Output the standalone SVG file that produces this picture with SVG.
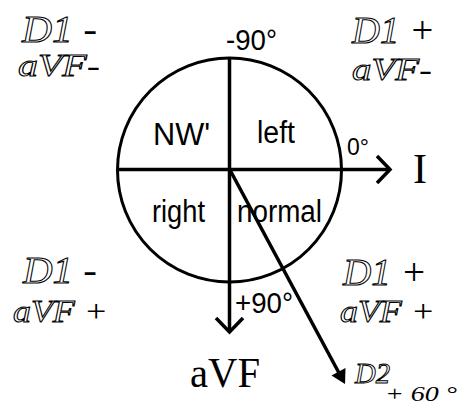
<svg xmlns="http://www.w3.org/2000/svg" width="460" height="405" viewBox="0 0 460 405">
<style>
.ln{stroke:#000;stroke-width:3.5;fill:none;stroke-linecap:butt}
.sans{font-family:"Liberation Sans",Arial,sans-serif;fill:#000}
.ser{font-family:"Liberation Serif","Times New Roman",serif;fill:#000}
.it{font-family:"Liberation Serif","Times New Roman",serif;font-style:italic;fill:#000}
.ol{fill:none;stroke:#000;stroke-width:1}
</style>
<g id="circle">
<circle cx="229.5" cy="170" r="112" fill="none" stroke="#000" stroke-width="3"/>
</g>
<g id="connectors">
<line class="ln" x1="117" y1="169.5" x2="389" y2="169.5"/>
<polyline class="ln" points="377,156 390,169.5 377,183"/>
<line class="ln" x1="229.5" y1="58" x2="229.5" y2="331"/>
<polyline class="ln" points="216,318 229.5,332 243,318"/>
<line class="ln" x1="230" y1="170" x2="339" y2="373"/>
<polygon points="345,384 331.5,375.5 345.5,368" fill="#000"/>
</g>
<g id="quadrants">
<text class="sans" x="153" y="145" font-size="31" textLength="57" lengthAdjust="spacingAndGlyphs">NW'</text>
<text class="sans" x="257" y="143" font-size="31" textLength="38" lengthAdjust="spacingAndGlyphs">left</text>
<text class="sans" x="152" y="222" font-size="31" textLength="53" lengthAdjust="spacingAndGlyphs">right</text>
<text class="sans" x="237" y="222" font-size="31" textLength="85" lengthAdjust="spacingAndGlyphs">normal</text>
</g>
<g id="angles">
<text class="sans" x="226" y="50" font-size="30" textLength="51" lengthAdjust="spacingAndGlyphs">-90°</text>
<text class="sans" x="347" y="155" font-size="24" textLength="22" lengthAdjust="spacingAndGlyphs">0°</text>
<text class="sans" x="235" y="313" font-size="30" textLength="58" lengthAdjust="spacingAndGlyphs">+90°</text>
</g>
<g id="axis-labels">
<text class="ser" x="413" y="183" font-size="42">I</text>
<text class="ser" x="190" y="387" font-size="42" textLength="70" lengthAdjust="spacingAndGlyphs">aVF</text>
<text class="it ol" x="355" y="383" font-size="30" textLength="35" lengthAdjust="spacingAndGlyphs">D2</text>
<text class="it" x="385" y="401" font-size="20" textLength="72" lengthAdjust="spacingAndGlyphs">+ 60 °</text>
</g>
<g id="quadrant-signs">
<text class="it" x="22" y="42" font-size="38" textLength="75" lengthAdjust="spacingAndGlyphs"><tspan class="ol">D1</tspan> -</text>
<text class="it" x="18" y="76" font-size="31" textLength="82" lengthAdjust="spacingAndGlyphs"><tspan class="ol">aVF</tspan>-</text>
<text class="it" x="352" y="43" font-size="38" textLength="83" lengthAdjust="spacingAndGlyphs"><tspan class="ol">D1</tspan> +</text>
<text class="it" x="352" y="80" font-size="31" textLength="80" lengthAdjust="spacingAndGlyphs"><tspan class="ol">aVF</tspan>-</text>
<text class="it" x="23" y="283" font-size="38" textLength="74" lengthAdjust="spacingAndGlyphs"><tspan class="ol">D1</tspan> -</text>
<text class="it" x="13" y="322" font-size="31" textLength="95" lengthAdjust="spacingAndGlyphs"><tspan class="ol">aVF</tspan> +</text>
<text class="it" x="343" y="285" font-size="38" textLength="84" lengthAdjust="spacingAndGlyphs"><tspan class="ol">D1</tspan> +</text>
<text class="it" x="340" y="322" font-size="31" textLength="95" lengthAdjust="spacingAndGlyphs"><tspan class="ol">aVF</tspan> +</text>
</g>
</svg>
